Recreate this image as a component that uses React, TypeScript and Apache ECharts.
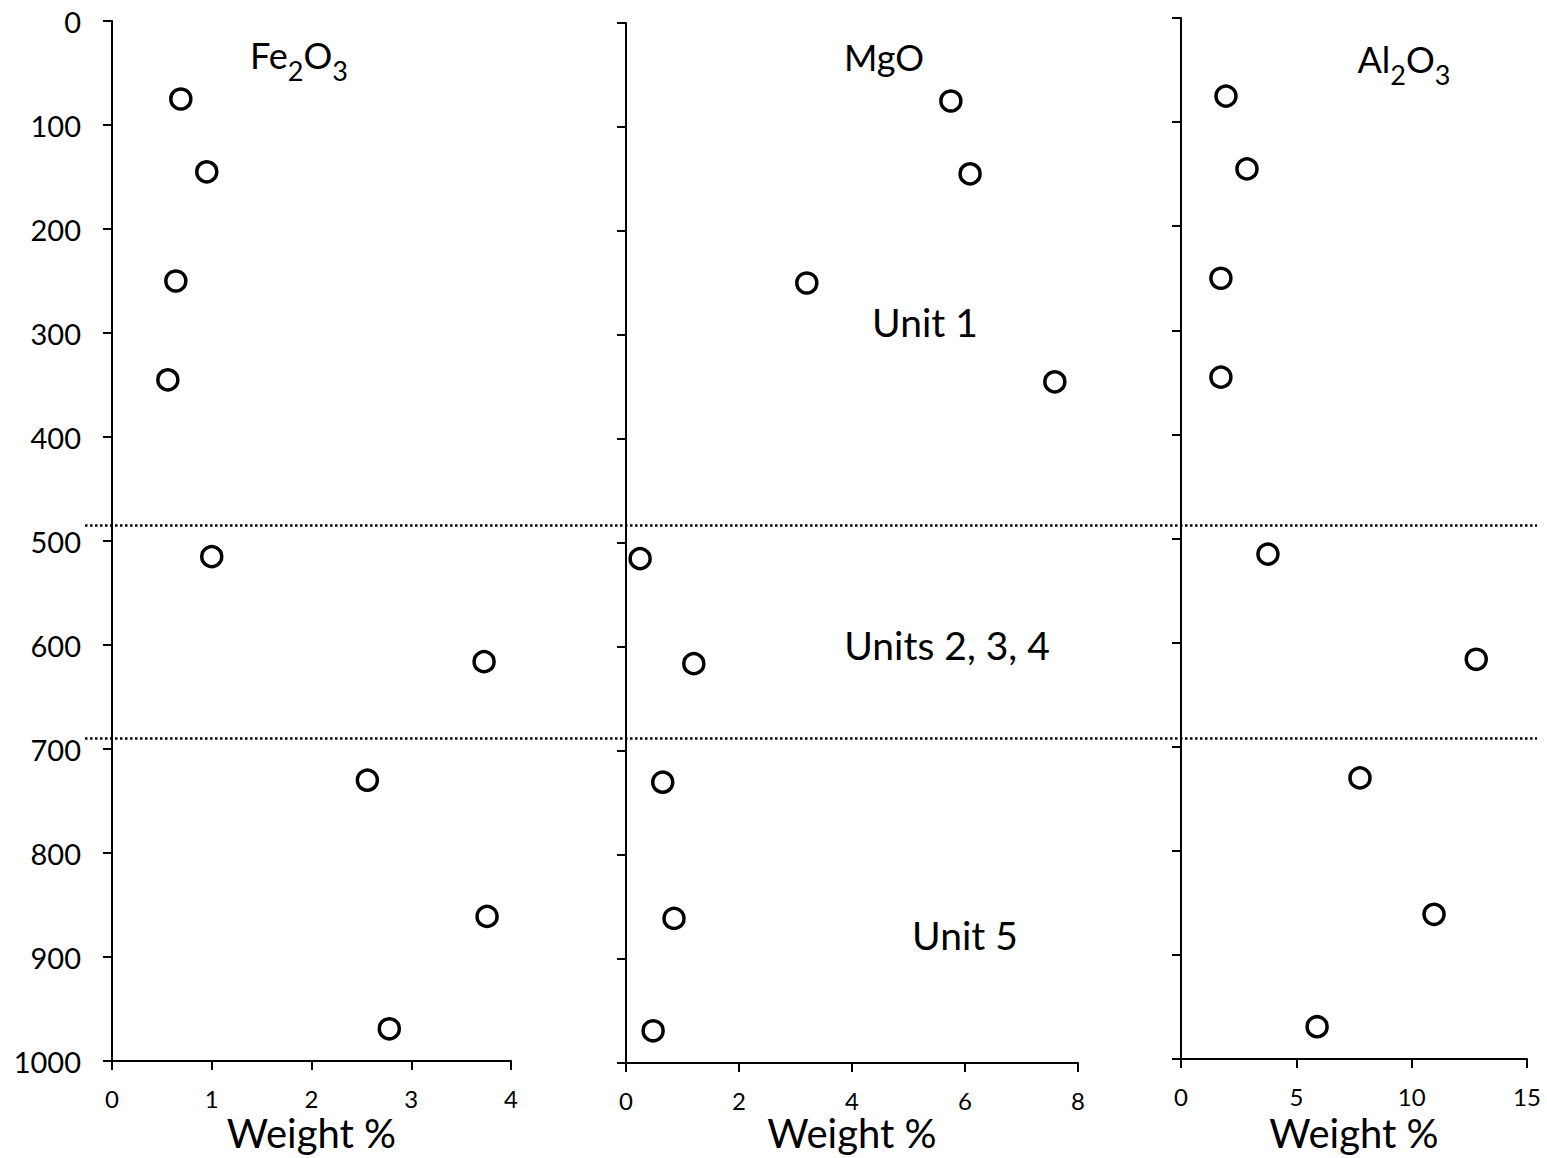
import React, { useEffect, useRef } from "react";
import * as echarts from "echarts";

const depths = [75, 145, 250, 345, 515, 616, 730, 861, 969];
const fe2o3 = [0.69, 0.95, 0.64, 0.56, 1.0, 3.73, 2.56, 3.76, 2.78];
const mgo = [5.75, 6.09, 3.2, 7.59, 0.25, 1.2, 0.65, 0.85, 0.48];
const al2o3 = [1.95, 2.86, 1.73, 1.73, 3.77, 12.8, 7.76, 10.97, 5.9];
const unitBoundaries = [485, 690];
const xMax = [4, 8, 15];
const xInterval = [1, 2, 5];
const panelValues = [fe2o3, mgo, al2o3];
const unitLabels = ["Unit 1", "Units 2, 3, 4", "Unit 5"];
// chemical formula titles as [text, isSubscript] segments
const titleSegments: [string, boolean][][] = [
  [["Fe", false], ["2", true], ["O", false], ["3", true]],
  [["MgO", false]],
  [["Al", false], ["2", true], ["O", false], ["3", true]],
];

const FONT = "Lato, 'Open Sans', sans-serif";
const MAIN_SIZE = 36;
const SUB_SIZE = 27;

export default function App() {
  const ref = useRef<HTMLDivElement>(null);
  useEffect(() => {
    document.body.style.margin = "0";
    document.documentElement.style.overflow = "hidden";
    const chart = echarts.init(ref.current!, null, { renderer: "svg" });
    const grids = [
      { left: 112, top: 21, width: 399, height: 1040, outerBoundsMode: "none", containLabel: false },
      { left: 626, top: 23, width: 452, height: 1040, outerBoundsMode: "none", containLabel: false },
      { left: 1181, top: 18, width: 346, height: 1041, outerBoundsMode: "none", containLabel: false },
    ];
    const nameGaps = [52, 50, 54];
    const axisLine = { show: true, onZero: false, lineStyle: { color: "#000", width: 2 } };
    const axisTick = { show: true, inside: false, length: 9, lineStyle: { color: "#000", width: 2 } };
    const option: any = {
      animation: false,
      backgroundColor: "#fff",
      grid: grids,
      xAxis: grids.map((_, i) => ({
        type: "value",
        gridIndex: i,
        min: 0,
        max: xMax[i],
        interval: xInterval[i],
        position: "bottom",
        axisLine,
        axisTick,
        splitLine: { show: false },
        axisLabel: { color: "#000", fontSize: 24, fontFamily: FONT, margin: 25 },
        name: "Weight %",
        nameLocation: "middle",
        nameGap: nameGaps[i],
        nameMoveOverlap: false,
        nameTextStyle: { color: "#000", fontSize: 40, fontFamily: FONT, lineHeight: 40 },
      })),
      yAxis: grids.map((_, i) => ({
        type: "value",
        gridIndex: i,
        inverse: true,
        min: 0,
        max: 1000,
        interval: 100,
        axisLine,
        axisTick,
        splitLine: { show: false },
        axisLabel: {
          show: i === 0,
          color: "#000",
          fontSize: 29,
          fontFamily: FONT,
          margin: 31,
          formatter: (v: number) => String(v),
        },
      })),
      series: panelValues.map((vals, i) => ({
        type: "scatter",
        xAxisIndex: i,
        yAxisIndex: i,
        symbol: "circle",
        symbolSize: 20,
        itemStyle: { color: "#fff", borderColor: "#000", borderWidth: 3.5, opacity: 1 },
        data: depths.map((d, k) => [vals[k], d]),
      })),
    };
    chart.setOption(option);

    const ctx = document.createElement("canvas").getContext("2d")!;
    const measure = (t: string, size: number) => {
      ctx.font = `${size}px ${FONT}`;
      return ctx.measureText(t).width;
    };
    // cy: vertical centre of the main glyphs' em box
    const title = (segs: [string, boolean][], cx: number, cy: number) => {
      const widths = segs.map(([t, sub]) => measure(t, sub ? SUB_SIZE : MAIN_SIZE));
      const total = widths.reduce((a, b) => a + b, 0);
      let x = cx - total / 2;
      return segs.map(([t, sub], k) => {
        const el = {
          type: "text",
          x,
          y: sub ? cy + 15 : cy,
          style: {
            text: t,
            fontSize: sub ? SUB_SIZE : MAIN_SIZE,
            fontFamily: FONT,
            fill: "#000",
            align: "left",
            verticalAlign: "middle",
          },
        };
        x += widths[k];
        return el;
      });
    };
    const label = (text: string, x: number, y: number) => ({
      type: "text",
      x,
      y,
      style: {
        text,
        fontSize: 39,
        fontFamily: FONT,
        fill: "#000",
        align: "center",
        verticalAlign: "middle",
      },
    });
    const lines = unitBoundaries.map((b) => {
      const y = chart.convertToPixel({ gridIndex: 0 } as any, [0, b])[1];
      return {
        type: "line",
        shape: { x1: 85, y1: y, x2: 1537, y2: y },
        style: { stroke: "#000", lineWidth: 2.5, lineDash: [2.5, 2.5] },
        z: 1,
      };
    });
    chart.setOption({
      graphic: [
        ...title(titleSegments[0], 299, 55),
        ...title(titleSegments[1], 884, 57),
        ...title(titleSegments[2], 1404, 59),
        label(unitLabels[0], 925, 322),
        label(unitLabels[1], 947, 645),
        label(unitLabels[2], 965, 935),
        ...lines,
      ],
    });
    return () => chart.dispose();
  }, []);
  return (
    <div
      ref={ref}
      style={{ position: "fixed", left: 0, top: 0, width: 1547, height: 1158, overflow: "hidden" }}
    />
  );
}
